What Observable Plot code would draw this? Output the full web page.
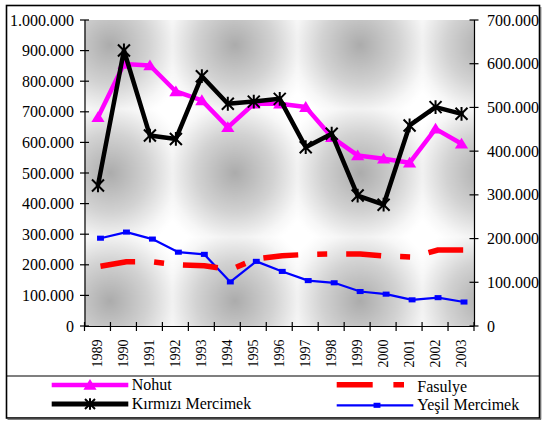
<!DOCTYPE html>
<html><head><meta charset="utf-8">
<script src="https://cdn.jsdelivr.net/npm/d3@7"></script>
<script src="https://cdn.jsdelivr.net/npm/@observablehq/plot@0.6"></script>
<style>
html,body{margin:0;padding:0;background:#fff;}
svg text{font-family:"Liberation Serif","Times New Roman",serif !important;fill:#000;}
</style></head><body><div id="chart"></div>
<script>
// ---- data ----
const years = [1989,1990,1991,1992,1993,1994,1995,1996,1997,1998,1999,2000,2001,2002,2003];
// left axis (ton)
const nohut = [684000,858000,853000,768000,739000,651000,728000,728000,717000,619000,559000,548000,535000,646000,597000];
const kirmiziMercimek = [461000,902000,624000,613000,818000,728000,735000,744000,586000,630000,428000,398000,657000,717000,695000];
// right axis (ton)
const fasulye = [138000,148000,148000,141000,139000,130000,155000,162000,165000,166000,166000,161000,159000,175000,175000];
const yesilMercimek = [202000,216000,200000,170000,165000,102000,149000,126000,105000,100000,80000,74000,61000,66000,56000];
const leftTicks = [0,100000,200000,300000,400000,500000,600000,700000,800000,900000,1000000];
const rightTicks = [0,100000,200000,300000,400000,500000,600000,700000];
const seriesNames = ["Nohut","Fasulye","Kırmızı Mercimek","Yeşil Mercimek"];

const leftMax = 1000000, rightMax = 700000;
const R = leftMax / rightMax; // right-axis value -> left-axis units

const rows = years.map((y, i) => ({
  year: y, nohut: nohut[i], kirmizi: kirmiziMercimek[i],
  fasulye: fasulye[i], yesil: yesilMercimek[i]
}));

const fmt = d3.formatLocale({decimal: ",", thousands: ".", grouping: [3], currency: ["", ""]}).format(",d");

// custom marker symbols
const triSym = {draw(ctx, size) { const r = Math.sqrt(size / Math.PI);
  ctx.moveTo(0, -r); ctx.lineTo(1.1 * r, 0.8 * r); ctx.lineTo(-1.1 * r, 0.8 * r); ctx.closePath(); }};
const starSym = {draw(ctx, size) { const r = Math.sqrt(size / Math.PI);
  ctx.moveTo(-r, -r); ctx.lineTo(r, r); ctx.moveTo(-r, r); ctx.lineTo(r, -r);
  ctx.moveTo(0, -1.15 * r); ctx.lineTo(0, 1.15 * r); }};
const sqSym = {draw(ctx, size) { const r = Math.sqrt(size / Math.PI);
  ctx.rect(-1.15 * r, -0.85 * r, 2.3 * r, 1.7 * r); }};

const FONT = "'Liberation Serif', 'Times New Roman', serif";
const x0 = years[0] - 0.5, x1 = years[years.length - 1] + 0.5;

const plot = Plot.plot({
  width: 542, height: 421,
  marginLeft: 84.5, marginRight: 68, marginTop: 20, marginBottom: 95,
  style: "font-family: 'Liberation Serif', 'Times New Roman', serif; color: #000; background: #fff;",
  x: {type: "linear", domain: [x0, x1]},
  y: {domain: [0, leftMax]},
  marks: [
    Plot.axisY(leftTicks, {anchor: "left", tickSize: 0, tickPadding: 11, tickFormat: fmt, fontSize: 16, label: null}),
    Plot.axisY(rightTicks.map(v => v * R), {anchor: "right", tickSize: 0, tickPadding: 12.5, tickFormat: d => fmt(Math.round(d / R)), fontSize: 16, label: null}),
    Plot.axisX(years, {anchor: "bottom", tickSize: 0, tickPadding: 13, tickRotate: -90, tickFormat: d => String(d), fontSize: 14, label: null}),
    Plot.ruleX([x0, x1], {stroke: "#000", strokeWidth: 1.2}),
    Plot.ruleY([0], {stroke: "#000", strokeWidth: 1.2}),
    // Yeşil Mercimek (right axis)
    Plot.line(rows, {x: "year", y: d => d.yesil * R, dx: 2.5, stroke: "#0000FF", strokeWidth: 2.2, strokeLinejoin: "round"}),
    Plot.dot(rows, {x: "year", y: d => d.yesil * R, dx: 2.5, symbol: sqSym, r: 3, fill: "#0000FF", stroke: "none"}),
    // Fasulye (right axis)
    Plot.line(rows, {x: "year", y: d => d.fasulye * R, dx: 2.5, stroke: "#FF0000", strokeWidth: 5.5, strokeDasharray: "35,19,10,19", strokeLinecap: "butt", strokeLinejoin: "round"}),
    // Nohut
    Plot.line(rows, {x: "year", y: "nohut", stroke: "#FF00FF", strokeWidth: 4.5, strokeLinejoin: "round"}),
    Plot.dot(rows, {x: "year", y: "nohut", symbol: triSym, r: 6, fill: "#FF00FF", stroke: "none"}),
    // Kırmızı Mercimek
    Plot.line(rows, {x: "year", y: "kirmizi", stroke: "#000", strokeWidth: 4.5, strokeLinejoin: "round"}),
    Plot.dot(rows, {x: "year", y: "kirmizi", symbol: starSym, r: 6, fill: "none", stroke: "#000", strokeWidth: 2})
  ]
});

document.getElementById("chart").appendChild(plot);

// ---- decorations through the plot's own scales ----
const svg = d3.select(plot);
const X = v => plot.scale("x").apply(v), Y = v => plot.scale("y").apply(v);

// background texture
const defs = svg.insert("defs", ":first-child");
const rg = defs.append("radialGradient").attr("id", "bgrg").attr("cx", 0.5).attr("cy", 0.5).attr("r", 0.62);
[[0, "#ababab"], [0.5, "#d2d2d2"], [0.85, "#f6f6f6"], [1, "#ffffff"]].forEach(([o, c]) => rg.append("stop").attr("offset", o).attr("stop-color", c));
const pat = defs.append("pattern").attr("id", "bgpat").attr("patternUnits", "userSpaceOnUse")
  .attr("x", 47.5).attr("y", -19).attr("width", 125).attr("height", 128);
pat.append("rect").attr("width", 125).attr("height", 128).attr("fill", "#fff");
pat.append("rect").attr("width", 125).attr("height", 128).attr("fill", "url(#bgrg)");
svg.insert("rect", "g").attr("x", X(x0)).attr("y", Y(leftMax))
  .attr("width", X(x1) - X(x0)).attr("height", Y(0) - Y(leftMax)).attr("fill", "url(#bgpat)");

// crossing tick marks
const tg = svg.append("g").attr("stroke", "#000").attr("stroke-width", 1.2);
leftTicks.forEach(v => tg.append("line").attr("x1", X(x0) - 4.5).attr("x2", X(x0) + 4.5).attr("y1", Y(v)).attr("y2", Y(v)));
rightTicks.forEach(v => tg.append("line").attr("x1", X(x1) - 4.5).attr("x2", X(x1) + 4.5).attr("y1", Y(v * R)).attr("y2", Y(v * R)));
years.concat([x1 + 0.5]).forEach(y => { const b = y - 0.5;
  tg.append("line").attr("x1", X(b)).attr("x2", X(b)).attr("y1", Y(0) - 4).attr("y2", Y(0) + 5); });

// outer border + legend
const lg = svg.append("g").attr("font-family", FONT).attr("font-size", 16).attr("text-anchor", "start").attr("fill", "#000");
lg.append("rect").attr("x", 6.5).attr("y", 5.5).attr("width", 533).attr("height", 412.5)
  .attr("fill", "none").attr("stroke", "#000").attr("stroke-width", 1.6);
lg.append("line").attr("x1", 7.5).attr("x2", 541).attr("y1", 419.2).attr("y2", 419.2).attr("stroke", "#555").attr("stroke-width", 1.2);
lg.append("line").attr("x1", 540.8).attr("x2", 540.8).attr("y1", 7).attr("y2", 419.5).attr("stroke", "#555").attr("stroke-width", 1);
lg.append("line").attr("x1", 6.5).attr("x2", 539.5).attr("y1", 376).attr("y2", 376).attr("stroke", "#000").attr("stroke-width", 1.2);

const legendItems = [
  {name: seriesNames[0], color: "#FF00FF", w: 4.5, xa: 51.7, xb: 128.3, y: 385, ty: 386.5, tx: 131.7, sym: triSym, size: Math.PI * 36, fill: true},
  {name: seriesNames[2], color: "#000", w: 5, xa: 51.7, xb: 128.3, y: 404, ty: 405, tx: 131.7, sym: starSym, size: Math.PI * 25, fill: false},
  {name: seriesNames[1], color: "#FF0000", w: 5.5, xa: 336.7, xb: 404, y: 384.8, ty: 388, tx: 417.3, dash: "36,20.7,10.7"},
  {name: seriesNames[3], color: "#0000FF", w: 2.2, xa: 336.7, xb: 413.3, y: 405.3, ty: 406.5, tx: 417.3, sym: sqSym, size: Math.PI * 9, fill: true, mx: 377}
];
legendItems.forEach(it => {
  const ln = lg.append("line").attr("x1", it.xa).attr("x2", it.xb).attr("y1", it.y).attr("y2", it.y)
    .attr("stroke", it.color).attr("stroke-width", it.w);
  if (it.dash) ln.attr("stroke-dasharray", it.dash);
  if (it.sym) {
    const mx = it.mx ?? (it.xa + it.xb) / 2;
    lg.append("path").attr("d", d3.symbol(it.sym, it.size)()).attr("transform", `translate(${mx},${it.y})`)
      .attr("fill", it.fill ? it.color : "none").attr("stroke", it.fill ? "none" : it.color).attr("stroke-width", 2);
  }
  lg.append("text").attr("x", it.tx).attr("y", it.ty).attr("dominant-baseline", "middle").attr("text-anchor", "start").text(it.name);
});
</script>
</body></html>
